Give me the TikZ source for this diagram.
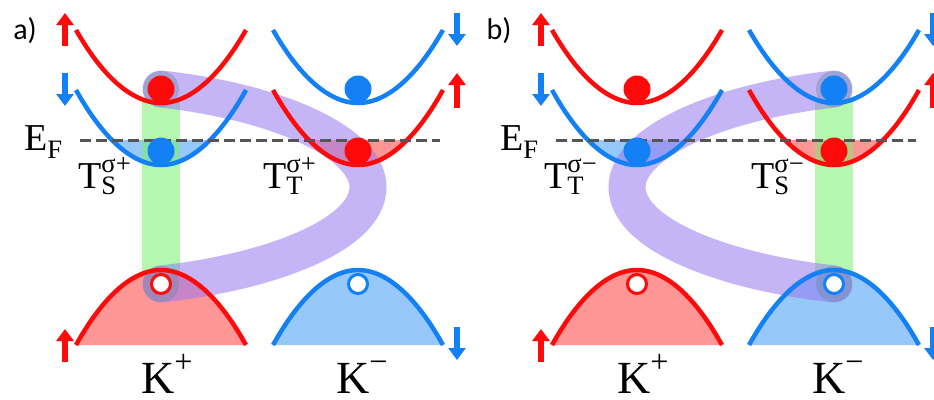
\documentclass[tikz,border=0pt]{standalone}
\usepackage{amsmath}
\usepackage{fontspec}
\setmainfont{Liberation Serif}
\newfontfamily\panelfont{Carlito}
\usetikzlibrary{arrows.meta}
\definecolor{spinred}{RGB}{255,10,10}
\definecolor{spinblue}{RGB}{20,128,245}
\definecolor{fillred}{RGB}{255,150,150}
\definecolor{fillblue}{RGB}{150,200,250}
\definecolor{exgreen}{RGB}{120,240,110}
\definecolor{expurple}{RGB}{150,120,240}
\definecolor{fermigray}{RGB}{85,85,85}

\begin{document}
\begin{tikzpicture}[x=1pt,y=-1pt,
    curve/.style={line width=4.5pt},
    spin/.style={line width=6.5pt,-{Triangle[width=17pt,length=12pt]}},
    fermi/.style={line width=3pt,fermigray,dash pattern=on 11pt off 5pt},
    dot/.style={circle,inner sep=0pt,minimum size=27pt},
    hole/.style={circle,draw=#1,fill=white,line width=3pt,inner sep=0pt,minimum size=19pt},
    halo/.style={fill={rgb,255:red,110;green,140;blue,170},opacity=0.45},
    exband/.style={line width=37pt,expurple,opacity=0.55,line cap=round},
    exbar/.style={fill=exgreen,opacity=0.55},
    bigtext/.style={font=\fontsize{38}{38}\selectfont,inner sep=0pt,anchor=base west},
    ktext/.style={font=\fontsize{46}{46}\selectfont,inner sep=0pt,anchor=base west}]
  \useasboundingbox (0,0) rectangle (934,399);

  % both panels have the same bands and carriers
  \foreach \s/\p in {0/a,476/b} {
    \begin{scope}[xshift=\s]
      % Fermi sea
      \begin{scope}
        \clip (0,140) rectangle (500,200);
        \fill[fillblue] (76,90) parabola bend (161,165) (246,90);
        \fill[fillred] (273,90) parabola bend (358,165) (443,90);
      \end{scope}
      % valence bands
      \fill[fillred] (76,345) parabola bend (161,270) (246,345) -- cycle;
      \fill[fillblue] (273,345) parabola bend (358,270) (443,345) -- cycle;
    \end{scope}
  }

  % exciton a)
  \fill[exbar] (142,100) rectangle (180,272);
  \draw[exband] (161,89) .. controls (285,103) and (368,145) .. (368,187)
    .. controls (368,235) and (270,272) .. (161,284);
  \fill[halo] (161,89) circle (18);
  \fill[halo] (161,284) circle (18);

  % exciton b)
  \fill[exbar] (815,100) rectangle (853,272);
  \draw[exband] (834,89) .. controls (710,103) and (627,145) .. (627,187)
    .. controls (627,235) and (725,272) .. (834,284);
  \fill[halo] (834,89) circle (18);
  \fill[halo] (834,284) circle (18);

  \foreach \s/\p in {0/a,476/b} {
    \begin{scope}[xshift=\s]
      \draw[curve,spinred] (76,30) parabola bend (161,103) (246,30);
      \draw[curve,spinblue] (76,90) parabola bend (161,165) (246,90);
      \draw[curve,spinblue] (273,30) parabola bend (358,103) (443,30);
      \draw[curve,spinred] (273,90) parabola bend (358,165) (443,90);
      \draw[curve,spinred] (76,345) parabola bend (161,270) (246,345);
      \draw[curve,spinblue] (273,345) parabola bend (358,270) (443,345);
      \draw[fermi] (80,140) -- (440,140);
      % spins
      \draw[spin,spinred] (65,46) -- (65,13);
      \draw[spin,spinblue] (65,73) -- (65,106);
      \draw[spin,spinblue] (457,13) -- (457,46);
      \draw[spin,spinred] (457,108) -- (457,73);
      \draw[spin,spinred] (65,362) -- (65,329);
      \draw[spin,spinblue] (457,327) -- (457,360);
      % carriers
      \node[dot,fill=spinred] (\p-e1) at (161,89) {};
      \node[dot,fill=spinblue] (\p-e2) at (161,151) {};
      \node[dot,fill=spinblue] (\p-e3) at (358,89) {};
      \node[dot,fill=spinred] (\p-e4) at (358,151) {};
      \node[hole=spinred] (\p-h1) at (161,284) {};
      \node[hole=spinblue] (\p-h2) at (358,284) {};
      % labels
      \node[bigtext] (\p-ef) at (24,150) {$\text{E}_{\text{F}}$};
      \node[ktext] (\p-kp) at (141,393) {$\text{K}^{\text{+}}$};
      \node[ktext] (\p-km) at (336,393) {$\text{K}^{\text{−}}$};
    \end{scope}
  }

  \node[font=\panelfont\fontsize{30}{30}\selectfont,inner sep=0pt] (pa) at (25,31) {a)};
  \node[font=\panelfont\fontsize{30}{30}\selectfont,inner sep=0pt] (pb) at (499,31) {b)};
  \node[bigtext] (ts-a) at (78,188) {$\text{T}_{\text{S}}^{\text{σ+}}$};
  \node[bigtext] (tt-a) at (263,188) {$\text{T}_{\text{T}}^{\text{σ+}}$};
  \node[bigtext] (tt-b) at (544,188) {$\text{T}_{\text{T}}^{\text{σ−}}$};
  \node[bigtext] (ts-b) at (751,188) {$\text{T}_{\text{S}}^{\text{σ−}}$};
\end{tikzpicture}
\end{document}
